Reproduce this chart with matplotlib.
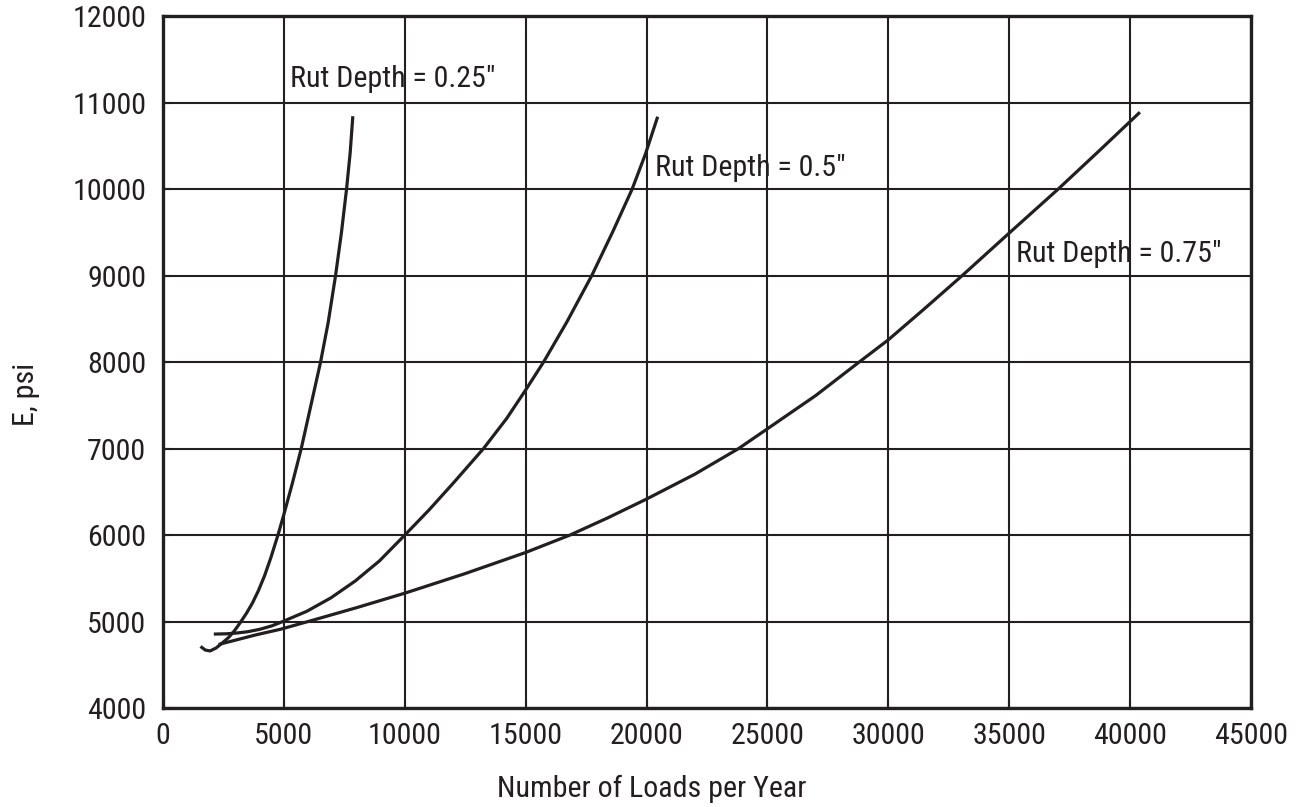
import matplotlib
matplotlib.use("Agg")
import matplotlib.pyplot as plt
from matplotlib import font_manager as fm
from matplotlib.ticker import MultipleLocator, FormatStrFormatter

INK = '#231f20'

# Rut depth = 0.25"
x25 = [1550, 1750, 1950, 2200, 2450, 2700, 2950, 3200, 3450, 3700, 3950, 4200,
       4450, 4753, 5000, 5350, 5716, 6100, 6515, 6830, 7135, 7380, 7590, 7740,
       7851]
y25 = [4712, 4670, 4660, 4695, 4752, 4812, 4892, 4990, 5095, 5215, 5360, 5530,
       5730, 6000, 6240, 6600, 7000, 7480, 8000, 8457, 9000, 9500, 10000, 10420,
       10846]

# Rut depth = 0.5"
x50 = [2100, 2600, 3000, 3500, 4000, 4500, 4950, 5950, 6950, 7950, 8950, 10000,
       11000, 12000, 13253, 14216, 15000, 15736, 16700, 17730, 18600, 19400,
       19950, 20460]
y50 = [4855, 4858, 4866, 4882, 4910, 4950, 5000, 5119, 5275, 5469, 5701, 6000,
       6290, 6600, 7000, 7350, 7679, 8000, 8464, 9000, 9508, 10000,
       10405, 10840]

# Rut depth = 0.75"
x75 = [2300, 3000, 3800, 4862, 6238, 8000, 10000, 12500, 15000, 16829, 18400,
       20000, 22000, 23800, 25000, 27000, 28786, 30000, 31500, 33048, 35000,
       37015, 38700, 40407]
y75 = [4735, 4785, 4843, 4911, 5019, 5160, 5328, 5555, 5799, 6000, 6200,
       6417, 6705, 7000, 7230, 7615, 8000, 8259, 8620, 9000, 9494,
       10000, 10440, 10892]

curve_labels = ['Rut Depth = 0.25"', 'Rut Depth = 0.5"', 'Rut Depth = 0.75"']
curve_label_xy = [(5248, 11184), (20330, 10154), (35289, 9159)]
x_title = 'Number of Loads per Year'
y_title = 'E, psi'


def narrow_face():
    """Return (family, stretch) of an installed narrow sans face, if any."""
    prefs = ['liberation sans narrow', 'roboto condensed', 'open sans condensed',
             'noto sans', 'dejavu sans', 'liberation sans', 'open sans', 'roboto']
    found = []
    for f in fm.fontManager.ttflist:
        tag = (f.name + ' ' + f.fname).lower()
        if not ('narrow' in tag or 'condensed' in tag):
            continue
        if 'mono' in tag or 'serif' in tag and 'sans' not in tag:
            continue
        if f.style != 'normal':
            continue
        if f.weight not in (400, 'normal', 'regular', 'book'):
            continue
        rank = len(prefs)
        for i, p in enumerate(prefs):
            if p in f.name.lower():
                rank = i
                break
        found.append((rank, f.name, f.stretch))
    if not found:
        return None
    found.sort()
    return found[0][1], found[0][2]


face = narrow_face()
if face is not None:
    plt.rcParams['font.family'] = [face[0], 'DejaVu Sans']
    plt.rcParams['font.stretch'] = face[1]
    FS = 21.6
else:
    plt.rcParams['font.family'] = ['Roboto', 'DejaVu Sans']
    FS = 20
plt.rcParams['font.weight'] = 'normal'

fig = plt.figure(figsize=(12.99, 8.07), dpi=100)
ax = fig.add_axes([0.1255, 0.1227, 0.8375, 0.8569])

ax.set_xlim(0, 45000)
ax.set_ylim(4000, 12000)
ax.xaxis.set_major_locator(MultipleLocator(5000))
ax.yaxis.set_major_locator(MultipleLocator(1000))
ax.xaxis.set_major_formatter(FormatStrFormatter('%d'))
ax.yaxis.set_major_formatter(FormatStrFormatter('%d'))

ax.set_axisbelow(True)
ax.grid(True, color=INK, linewidth=1.5)

for xs, ys in ((x25, y25), (x50, y50), (x75, y75)):
    ax.plot(xs, ys, color=INK, linewidth=2.3, solid_capstyle='butt',
            solid_joinstyle='round', zorder=2)

for text, (tx, ty) in zip(curve_labels, curve_label_xy):
    ax.text(tx, ty, text, fontsize=FS, color=INK, ha='left', va='baseline',
            zorder=0.1)

for side in ax.spines.values():
    side.set_linewidth(2.4)
    side.set_color(INK)

ax.tick_params(axis='both', direction='in', length=6, width=1.5, color=INK,
               labelsize=FS, labelcolor=INK)
ax.tick_params(axis='x', pad=10)
ax.tick_params(axis='y', pad=12)

ax.set_xlabel(x_title, fontsize=FS, color=INK, va='top')
ax.xaxis.set_label_coords(0.449, -0.097)
ax.set_ylabel(y_title, fontsize=FS, color=INK, va='center')
ax.yaxis.set_label_coords(-0.126, 0.453)

fig.savefig('out.png', dpi=100)
